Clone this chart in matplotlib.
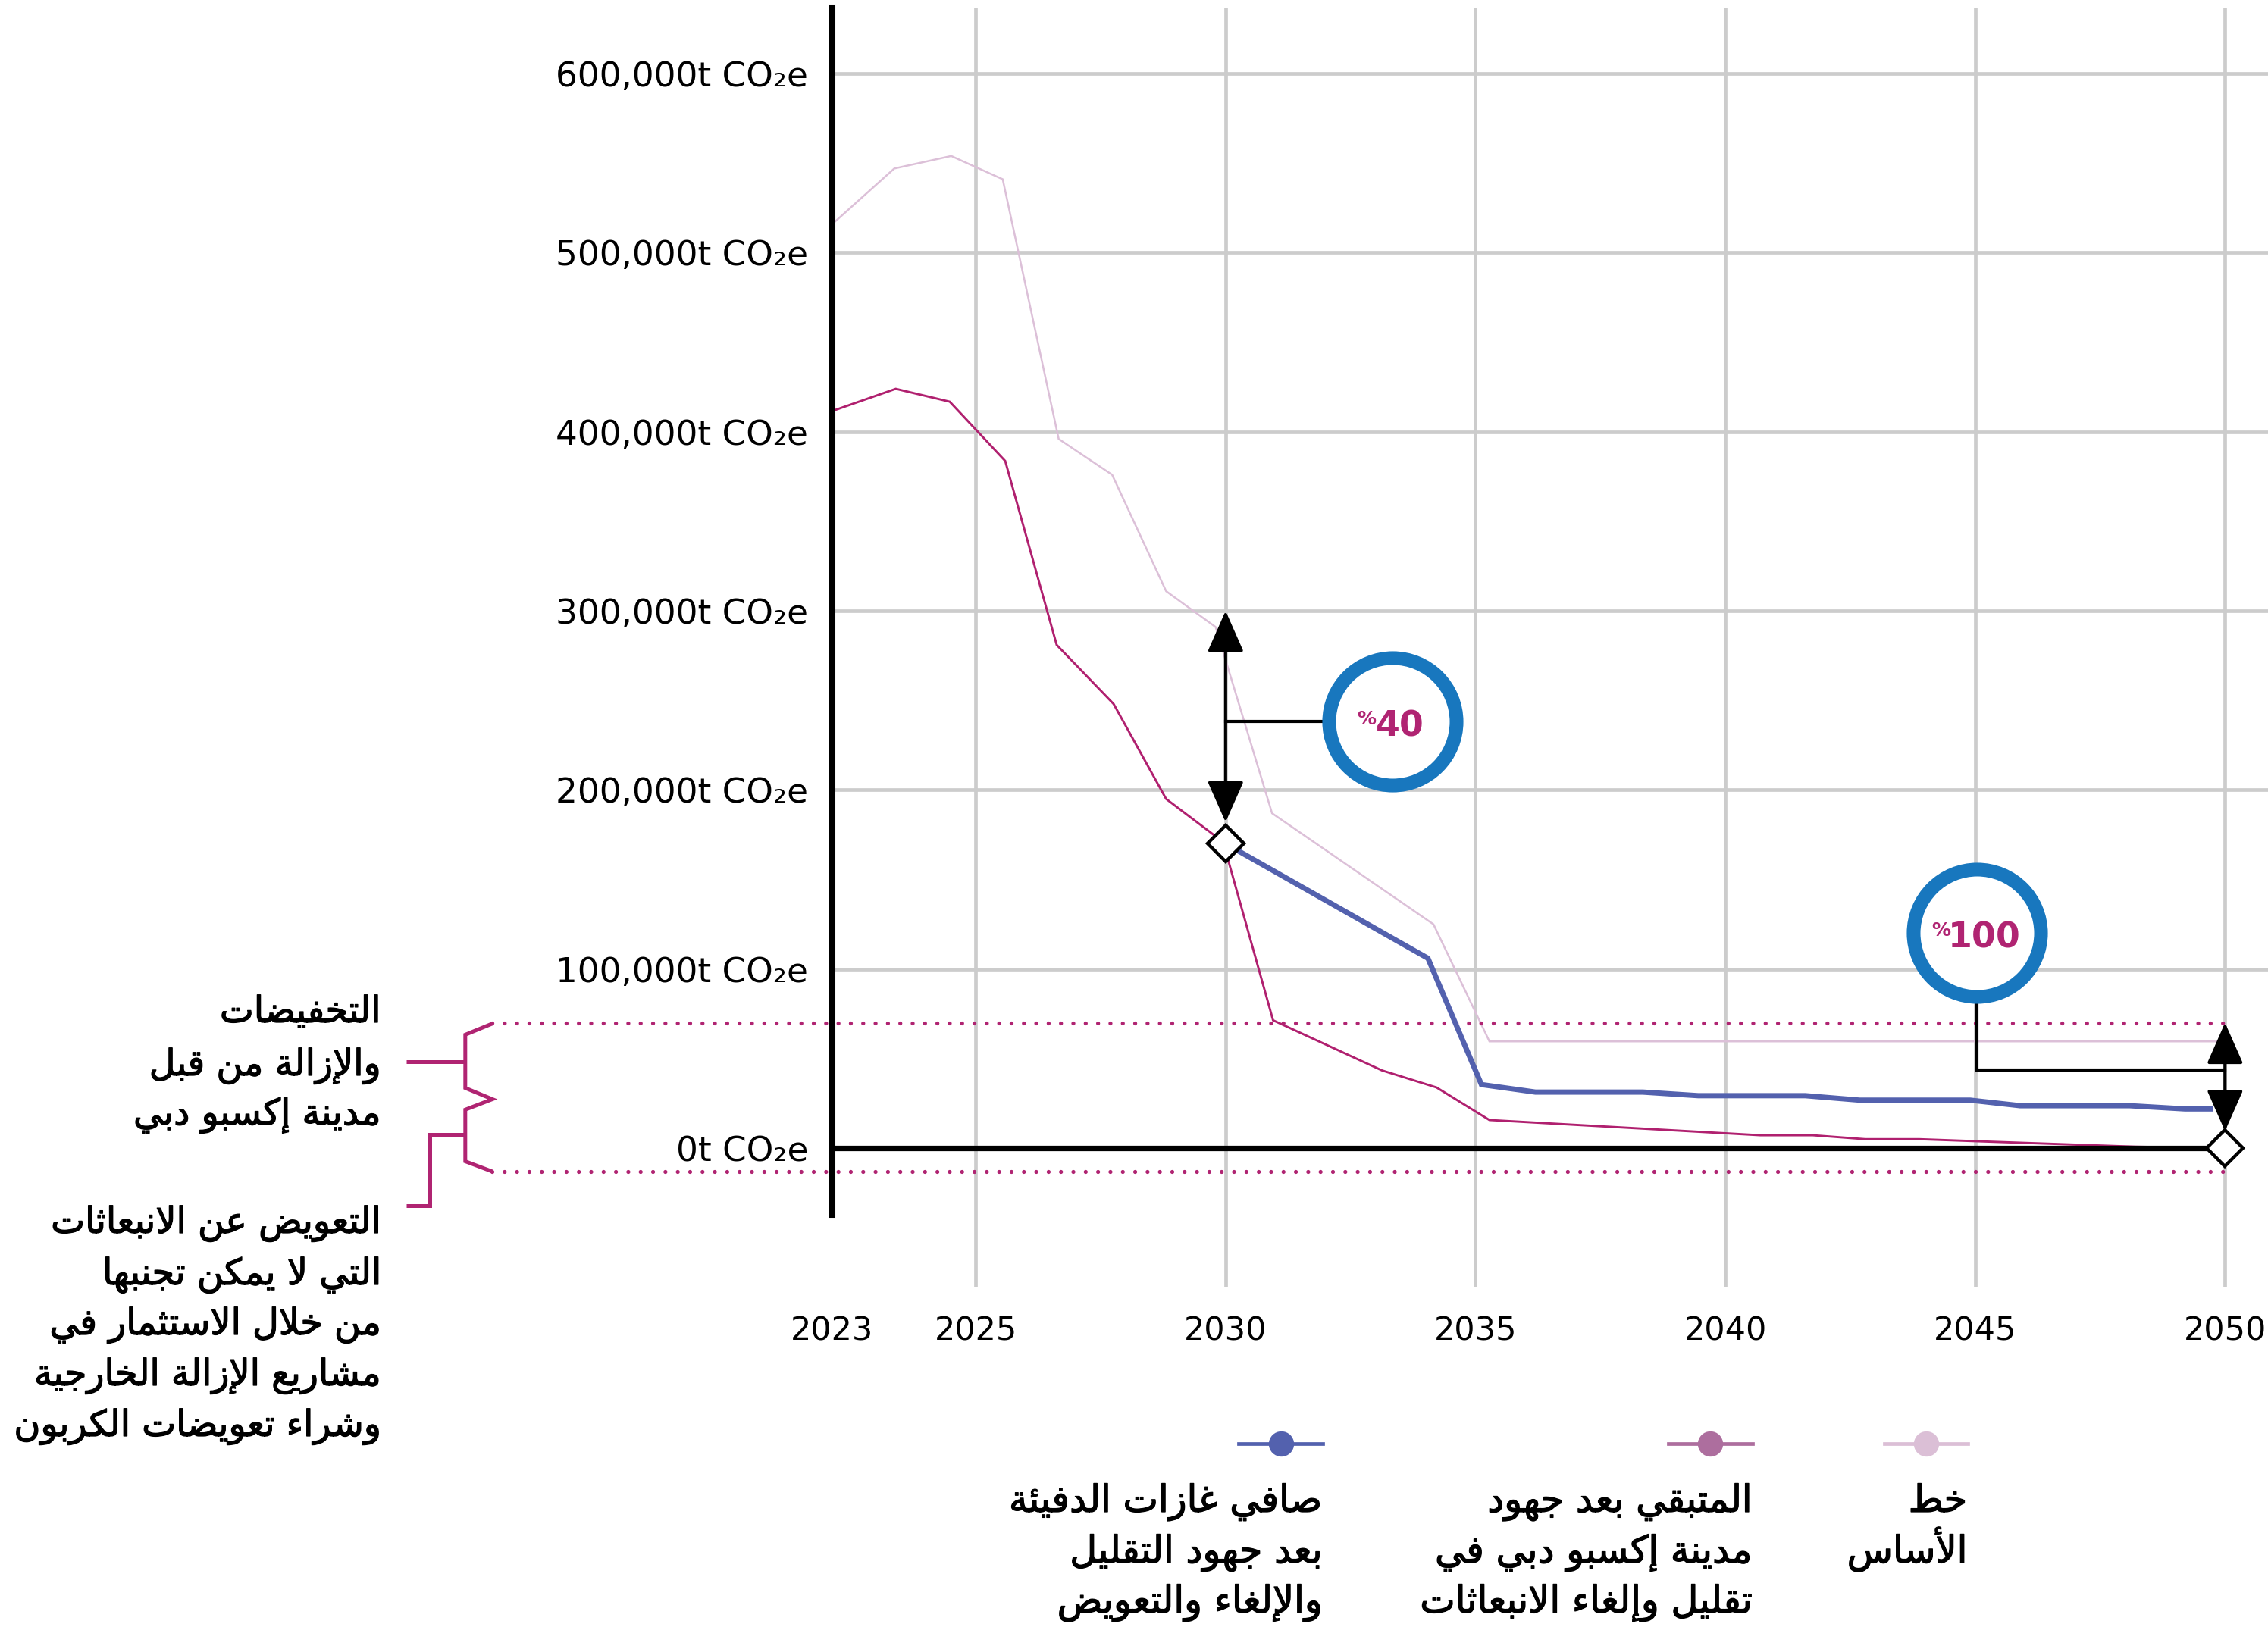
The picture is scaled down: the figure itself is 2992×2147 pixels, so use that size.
import matplotlib
matplotlib.use("Agg")
import matplotlib.pyplot as plt
from matplotlib.lines import Line2D
from matplotlib.patches import FancyArrowPatch
import matplotlib.patheffects as pe

# ---------------- data ----------------
baseline_years = [2022.17, 2023.37, 2024.51, 2025.54, 2026.66, 2027.73, 2028.81,
                  2029.80, 2030.93, 2034.16, 2035.28, 2049.90]
baseline_vals = [517000, 547000, 554000, 541000, 396000, 376000, 311000,
                 291000, 187000, 125000, 59600, 59600]

residual_years = [2022.17, 2023.40, 2024.48, 2025.59, 2026.62, 2027.76, 2028.81,
                  2029.95, 2030.95, 2033.13, 2034.22, 2035.28, 2040.00, 2040.70,
                  2041.75, 2042.80, 2043.88, 2044.98, 2048.20, 2049.90]
residual_vals = [412000, 424000, 416800, 383700, 281000, 248000, 195000,
                 171000, 71400, 43400, 33900, 15700, 8300, 7200,
                 7200, 5000, 5000, 3900, 800, 0]

net_years = [2030.00, 2034.05, 2035.12, 2036.20, 2038.35, 2039.46, 2041.60,
             2042.69, 2044.90, 2045.90, 2048.09, 2049.20, 2049.70]
net_vals = [170000, 106000, 35500, 31300, 31300, 29300, 29300,
            26800, 26800, 23700, 23700, 21900, 21900]

y_ticks = [0, 100000, 200000, 300000, 400000, 500000, 600000]
y_tick_labels = ["0t CO\u2082e", "100,000t CO\u2082e", "200,000t CO\u2082e", "300,000t CO\u2082e",
                 "400,000t CO\u2082e", "500,000t CO\u2082e", "600,000t CO\u2082e"]
x_ticks = [2025, 2030, 2035, 2040, 2045, 2050]
x_tick_labels = ["2025", "2030", "2035", "2040", "2045", "2050"]
first_year_label = "2023"

band_top = 70000        # upper dotted line
band_bottom = -13000    # lower dotted line
arrow_2030 = (300000, 182000)
arrow_2050 = (70000, 9500)
pct_40 = "40"
pct_100 = "100"
circle_40 = (2033.34, 238400)
circle_100 = (2045.03, 120200)
connector_100_y = 43600

ann_reduction = ["التخفيضات", "والإزالة من قبل", "مدينة إكسبو دبي"]
ann_offset = ["التعويض عن الانبعاثات", "التي لا يمكن تجنبها", "من خلال الاستثمار في",
              "مشاريع الإزالة الخارجية", "وشراء تعويضات الكربون"]
leg_net = ["صافي غازات الدفيئة", "بعد جهود التقليل", "والإلغاء والتعويض"]
leg_res = ["المتبقي بعد جهود", "مدينة إكسبو دبي في", "تقليل وإلغاء الانبعاثات"]
leg_base = ["خط", "الأساس"]

# ---------------- colours ----------------
C_BASE = "#DCC0D8"
C_RES = "#B0206F"
C_NET = "#5361AE"
C_LEG_NET = "#5361AE"
C_LEG_RES = "#AD6E9E"
C_LEG_BASE = "#DBBFD6"
C_GRID = "#CCCCCC"
C_RING = "#1877BE"
C_PCT = "#B02472"
C_DOT = "#B02472"

# ---------------- minimal Arabic shaping (presentation forms) ----------------
DUAL = {'ب': 0xFE8F, 'ت': 0xFE95, 'ث': 0xFE99, 'ج': 0xFE9D, 'ح': 0xFEA1, 'خ': 0xFEA5,
        'س': 0xFEB1, 'ش': 0xFEB5, 'ص': 0xFEB9, 'ض': 0xFEBD, 'ط': 0xFEC1, 'ظ': 0xFEC5,
        'ع': 0xFEC9, 'غ': 0xFECD, 'ف': 0xFED1, 'ق': 0xFED5, 'ك': 0xFED9, 'ل': 0xFEDD,
        'م': 0xFEE1, 'ن': 0xFEE5, 'ه': 0xFEE9, 'ي': 0xFEF1, 'ئ': 0xFE89}
RIGHT = {'ا': 0xFE8D, 'أ': 0xFE83, 'إ': 0xFE87, 'آ': 0xFE81, 'د': 0xFEA9, 'ذ': 0xFEAB,
         'ر': 0xFEAD, 'ز': 0xFEAF, 'و': 0xFEED, 'ة': 0xFE93, 'ؤ': 0xFE85, 'ى': 0xFEEF}
LAMALEF = {'آ': 0xFEF5, 'أ': 0xFEF7, 'إ': 0xFEF9, 'ا': 0xFEFB}


def shape(s):
    out = []
    prev_joins = False
    i = 0
    n = len(s)
    while i < n:
        c = s[i]
        nxt = s[i + 1] if i + 1 < n else ""
        if c == 'ل' and nxt in LAMALEF:
            out.append(chr(LAMALEF[nxt] + (1 if prev_joins else 0)))
            prev_joins = False
            i += 2
            continue
        if c in DUAL:
            cn = (nxt in DUAL) or (nxt in RIGHT)
            base = DUAL[c]
            if prev_joins and cn:
                code = base + 3
            elif prev_joins:
                code = base + 1
            elif cn:
                code = base + 2
            else:
                code = base
            out.append(chr(code))
            prev_joins = True
        elif c in RIGHT:
            out.append(chr(RIGHT[c] + (1 if prev_joins else 0)))
            prev_joins = False
        else:
            out.append(c)
            prev_joins = False
        i += 1
    return "".join(reversed(out))


# ---------------- figure ----------------
W, H, DPI = 2992, 2147, 200
fig = plt.figure(figsize=(W / DPI, H / DPI), dpi=DPI, facecolor="white")


def fx(px):
    return px / W


def fy(py):
    return 1 - py / H


ax = fig.add_axes([fx(1098), fy(1698), fx(2992) - fx(1098), fy(0) - fy(1698)])
XLIM = (2022.13, 2050.86)
YLIM = (-77400, 641100)
ax.set_xlim(*XLIM)
ax.set_ylim(*YLIM)
ax.set_facecolor("none")

for side in ("top", "right", "bottom"):
    ax.spines[side].set_visible(False)
ax.spines["left"].set_linewidth(2.9)
ax.spines["left"].set_color("black")
ax.spines["left"].set_bounds(-37200, 637000)
ax.spines["left"].set_zorder(6)

# grid
ax.vlines(x_ticks, YLIM[0], 637000, color=C_GRID, lw=1.7, zorder=0.5)
ax.hlines(y_ticks[1:], XLIM[0], XLIM[1], color=C_GRID, lw=1.7, zorder=0.5)

# ticks / labels
ax.set_yticks(y_ticks)
ax.set_yticklabels(y_tick_labels)
ax.set_xticks([XLIM[0]] + x_ticks)
ax.set_xticklabels([first_year_label] + x_tick_labels)
ax.tick_params(axis="y", length=0, pad=11.5, labelsize=16.3, labelcolor="black")
ax.tick_params(axis="x", length=0, pad=13.5, labelsize=15.5, labelcolor="black")
for lab in ax.get_yticklabels() + ax.get_xticklabels():
    lab.set_family("DejaVu Sans")

# series
ax.plot(baseline_years, baseline_vals, color=C_BASE, lw=0.9, zorder=2, solid_joinstyle="miter")
ax.plot(residual_years, residual_vals, color=C_RES, lw=1.05, zorder=3, solid_joinstyle="miter")
ax.plot(net_years, net_vals, color=C_NET, lw=2.5, zorder=4, solid_joinstyle="miter")

# zero line
ax.hlines(0, XLIM[0], x_ticks[-1], color="black", lw=2.6, zorder=5)

# dotted band lines (extend to the left annotation)
dot_start = 2015.32
for yv in (band_top, band_bottom):
    ax.plot([dot_start, x_ticks[-1]], [yv, yv], color=C_DOT, lw=1.9,
            linestyle=(0, (0.01, 3.08)), dash_capstyle="round", clip_on=False, zorder=3.5)

# arrows
for xv, (y0, y1) in ((net_years[0], arrow_2030), (x_ticks[-1], arrow_2050)):
    arr = FancyArrowPatch((xv, y0), (xv, y1),
                          arrowstyle="<|-|>,head_length=17,head_width=7.5",
                          mutation_scale=1, lw=1.5, color="black",
                          shrinkA=0, shrinkB=0, zorder=6)
    ax.add_patch(arr)

# connectors
ax.plot([net_years[0], circle_40[0]], [circle_40[1], circle_40[1]], color="black", lw=1.5, zorder=5.5)
ax.plot([circle_100[0], circle_100[0], x_ticks[-1]],
        [circle_100[1], connector_100_y, connector_100_y],
        color="black", lw=1.5, zorder=5.5, solid_joinstyle="miter")

# ring circles
for cx, cy in (circle_40, circle_100):
    ax.plot([cx], [cy], marker="o", ms=60.5, mfc="white", mec=C_RING, mew=6.5,
            zorder=7, clip_on=False)

# percentage text
for (cx, cy), txt, pdx in ((circle_40, pct_40, -7.8), (circle_100, pct_100, -12.4)):
    ax.annotate(txt, xy=(cx, cy), xytext=(3.7, -7.0), textcoords="offset points",
                ha="center", va="baseline", fontsize=16.5, fontweight="bold",
                color=C_PCT, family="DejaVu Sans", zorder=9)
    ax.annotate("%", xy=(cx, cy), xytext=(pdx, 5.3), textcoords="offset points",
                ha="right", va="top", fontsize=9, fontweight="bold",
                color=C_PCT, family="DejaVu Sans", zorder=9)

# diamonds
ax.plot([net_years[0]], [net_vals[0]], marker="D", ms=12, mfc="white", mec="black",
        mew=1.6, zorder=8, clip_on=False)
ax.plot([x_ticks[-1]], [0], marker="D", ms=12, mfc="white", mec="black",
        mew=1.6, zorder=8, clip_on=False)

# ---------------- left bracket + annotations ----------------
def fig_line(xs, ys, **kw):
    fig.add_artist(Line2D([fx(v) for v in xs], [fy(v) for v in ys],
                          transform=fig.transFigure, **kw))


bk = dict(color=C_DOT, lw=1.8, solid_joinstyle="miter", solid_capstyle="butt")
fig_line([649.6, 613.8, 613.8, 649.6, 613.8, 613.8, 649.6],
         [1350.7, 1365.4, 1435.7, 1450.5, 1464.3, 1532.5, 1546.0], **bk)
fig_line([535.7, 613.8], [1400.8, 1400.8], **bk)
fig_line([613.8, 567.0, 567.0, 535.7], [1496.7, 1496.7, 1591.4, 1591.4], **bk)

ANN_FS = 17.2
LEG_FS = 17.8
thick = [pe.withStroke(linewidth=0.45, foreground="black")]
for line, yb in zip(ann_reduction, [1349, 1419, 1484]):
    fig.text(fx(502), fy(yb), shape(line), ha="right", va="baseline",
             fontsize=ANN_FS, family="DejaVu Sans", color="black", path_effects=thick)
for line, yb in zip(ann_offset, [1627, 1695, 1761, 1828, 1895]):
    fig.text(fx(502), fy(yb), shape(line), ha="right", va="baseline",
             fontsize=ANN_FS, family="DejaVu Sans", color="black", path_effects=thick)

# ---------------- legend ----------------
leg_items = [
    (C_LEG_NET, 1634, 1745, 1690, leg_net),
    (C_LEG_RES, 2201, 2312, 2256, leg_res),
    (C_LEG_BASE, 2486, 2596, 2541, leg_base),
]
for col, x0, x1, xc, lines in leg_items:
    fig_line([x0, x1], [1905, 1905], color=col, lw=1.7)
    fig.add_artist(Line2D([fx(xc)], [fy(1905)], transform=fig.transFigure,
                          marker="o", ms=11, mfc=col, mec=col, lw=0))
    for line, yb in zip(lines, [1995, 2062, 2128]):
        fig.text(fx(x1 - 1), fy(yb), shape(line), ha="right", va="baseline",
                 fontsize=LEG_FS, family="DejaVu Sans", color="black", path_effects=thick)

fig.savefig("out.png", dpi=DPI, facecolor="white")
